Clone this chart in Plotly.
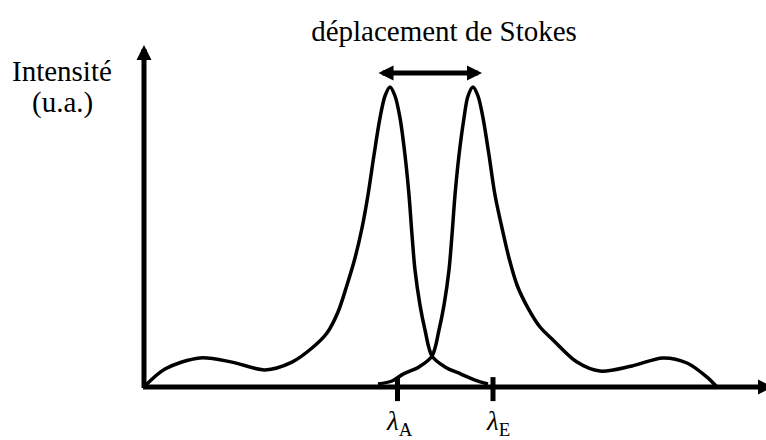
import plotly.graph_objects as go

# Absorption spectrum (left band) - wavelength (u.a.) and intensity (%)
abs_x = [0.0, 2.1, 5.6, 8.8, 12.1, 14.8, 16.8, 18.3, 19.4, 20.3, 21.1, 21.8,
         22.4, 23.0, 23.6, 24.1, 24.6, 25.1, 25.6, 26.1, 26.5, 26.8, 27.1, 27.6,
         28.1, 28.8, 30.1, 31.7, 33.1, 34.4]
abs_y = [0.0, 6.0, 9.7, 8.3, 5.7, 8.3, 13.0, 18.0, 25.0, 34.0, 43.0, 53.0,
         64.0, 77.3, 89.7, 97.0, 100.0, 97.0, 89.7, 77.3, 64.0, 50.7, 39.0, 27.3,
         19.0, 10.3, 6.7, 4.3, 2.3, 1.0]

# Emission spectrum (right band)
em_x = [23.4, 24.8, 25.9, 27.5, 28.8, 29.5, 30.0, 30.5, 30.8, 31.1, 31.5, 32.0,
        32.4, 32.9, 33.4, 33.9, 34.5, 35.1, 35.8, 36.5, 37.3, 38.4, 39.6, 40.9,
        43.3, 45.6, 48.8, 51.9, 54.3, 56.3, 57.3]
em_y = [1.0, 2.0, 4.3, 6.7, 10.3, 19.0, 27.3, 39.0, 50.7, 64.0, 77.3, 89.7,
        97.0, 100.0, 97.0, 89.7, 77.3, 64.0, 53.0, 43.0, 34.0, 26.3, 20.0, 15.7,
        8.3, 5.3, 7.0, 9.7, 8.0, 3.3, 0.0]

# Marked wavelengths on the horizontal axis
tick_x = [25.35, 34.9]
tick_labels = ["<i>λ</i><sub>A</sub>", "<i>λ</i><sub>E</sub>"]
tick_shift = [2, 5]

# Stokes shift arrow (start, end, height)
shift_x = [23.3, 33.8]
shift_y = 104.7

# Axis extents
x_end = 62.9
y_end = 114.0

FONT = "Liberation Serif, 'Times New Roman', Times, 'DejaVu Serif', serif"
BLACK = "black"

fig = go.Figure()

for xs, ys in ((abs_x, abs_y), (em_x, em_y)):
    fig.add_trace(go.Scatter(
        x=xs, y=ys, mode="lines",
        line=dict(color=BLACK, width=3.5, shape="spline", smoothing=0.9),
        hoverinfo="skip",
    ))

for tx in tick_x:
    fig.add_trace(go.Scatter(
        x=[tx, tx], y=[-4.7, 3.3], mode="lines",
        line=dict(color=BLACK, width=5), hoverinfo="skip",
    ))

annotations = []

# Axes drawn as arrows
annotations.append(dict(x=0, y=y_end, ax=0, ay=-0.8, xref="x", yref="y",
                        axref="x", ayref="y", text="", showarrow=True,
                        arrowhead=2, arrowsize=0.6, arrowwidth=5,
                        arrowcolor=BLACK))
annotations.append(dict(x=x_end, y=0, ax=-0.25, ay=0, xref="x", yref="y",
                        axref="x", ayref="y", text="", showarrow=True,
                        arrowhead=2, arrowsize=0.6, arrowwidth=5,
                        arrowcolor=BLACK))

# Double-headed Stokes shift arrow
annotations.append(dict(x=shift_x[1], y=shift_y, ax=shift_x[0], ay=shift_y,
                        xref="x", yref="y", axref="x", ayref="y", text="",
                        showarrow=True, arrowhead=2, startarrowhead=2,
                        arrowside="end+start", arrowsize=0.6,
                        startarrowsize=0.6, arrowwidth=5, arrowcolor=BLACK))

# Wavelength labels under the ticks
for tx, lab, sh in zip(tick_x, tick_labels, tick_shift):
    annotations.append(dict(x=tx, y=-5.7, xref="x", yref="y", text=lab,
                            showarrow=False, xanchor="center", yanchor="top",
                            xshift=sh,
                            font=dict(family=FONT, size=27, color=BLACK)))

# Horizontal axis label
annotations.append(dict(x=x_end - 0.9, y=-6.0, xref="x", yref="y",
                        text="<i>λ</i>", showarrow=False, xanchor="left",
                        yanchor="top",
                        font=dict(family=FONT, size=27, color=BLACK)))

# Vertical axis label (two lines)
annotations.append(dict(x=62 / 766, y=1 - 71 / 440, xref="paper", yref="paper",
                        text="Intensité", showarrow=False, xanchor="center",
                        yanchor="middle",
                        font=dict(family=FONT, size=29, color=BLACK)))
annotations.append(dict(x=62 / 766, y=1 - 102 / 440, xref="paper", yref="paper",
                        text="(u.a.)", showarrow=False, xanchor="center",
                        yanchor="middle",
                        font=dict(family=FONT, size=29, color=BLACK)))

fig.update_layout(
    width=766, height=440,
    margin=dict(l=0, r=0, t=0, b=0),
    paper_bgcolor="white", plot_bgcolor="white",
    showlegend=False,
    title=dict(text="déplacement de Stokes", x=444 / 766, y=1 - 31 / 440,
               xref="paper", yref="container", xanchor="center",
               yanchor="middle", font=dict(family=FONT, size=29, color=BLACK)),
    xaxis=dict(range=[-14.4, 62.2], visible=False, fixedrange=True),
    yaxis=dict(range=[-17.667, 129.0], visible=False, fixedrange=True),
    annotations=annotations,
)

fig.write_html("out.html")
